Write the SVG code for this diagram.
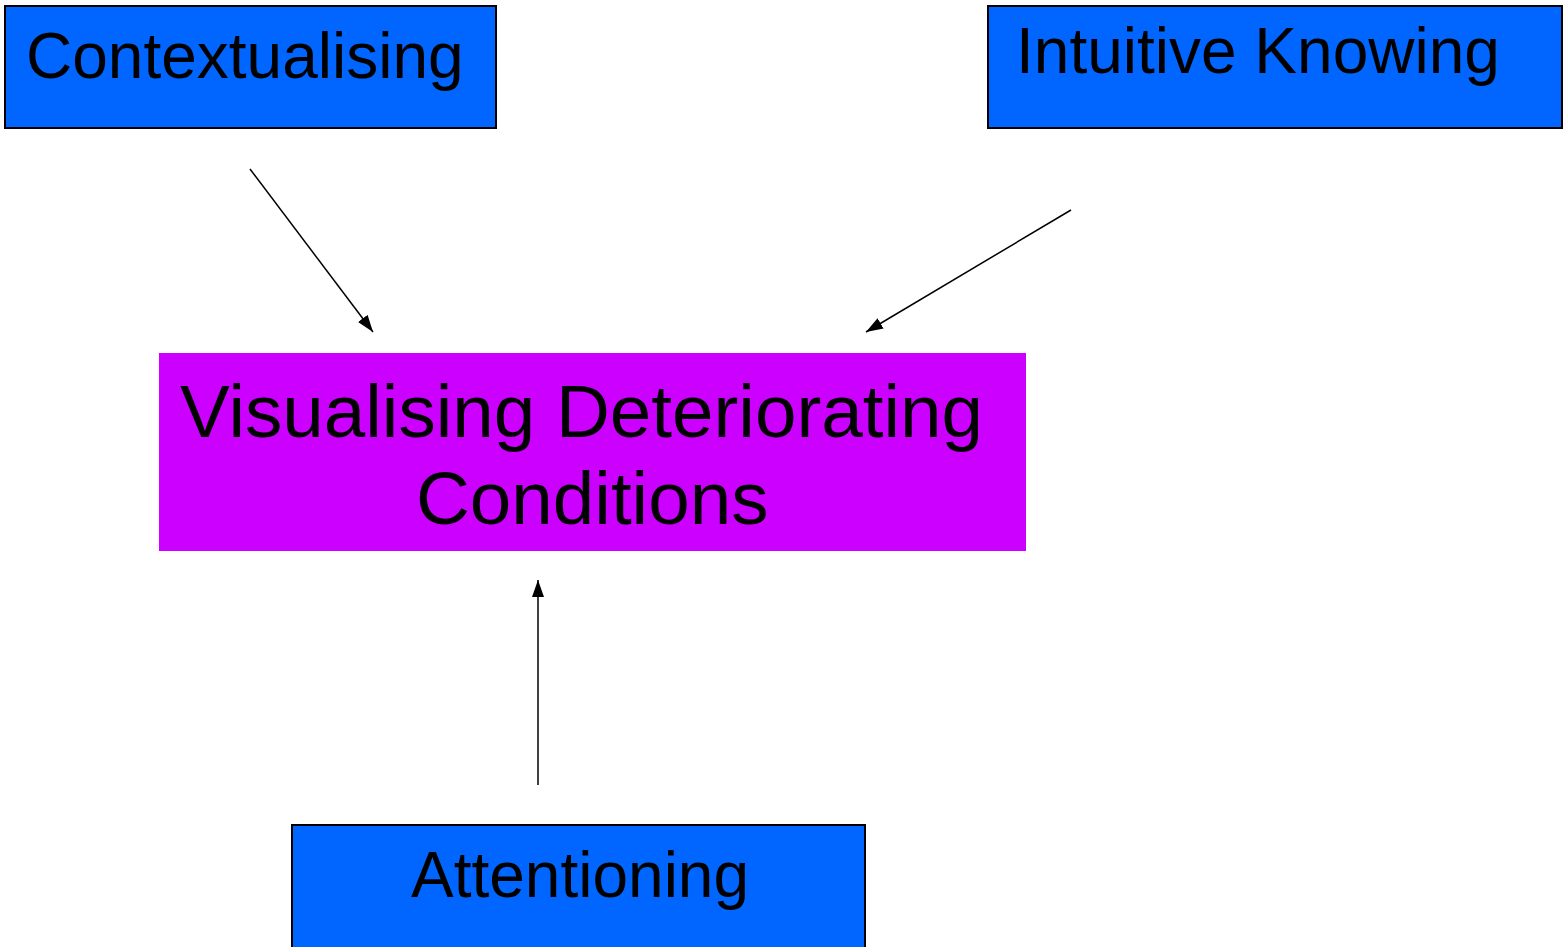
<svg xmlns="http://www.w3.org/2000/svg" width="1564" height="947" viewBox="0 0 1564 947">
<style>
.blue{fill:#0066FF;stroke:#000;stroke-width:2}
.mag{fill:#CC00FF;stroke:none}
.t{font-family:"Liberation Sans",Arial,sans-serif;fill:#000}
.s{font-size:64px}
.l{font-size:74.6px}
.c{stroke:#000;stroke-width:1.5;fill:none;marker-end:url(#ah)}
</style>
<defs>
<marker id="ah" markerUnits="userSpaceOnUse" markerWidth="17" markerHeight="12" refX="17" refY="6" orient="auto">
<path d="M0,0 L17,6 L0,12 Z" fill="#000"/>
</marker>
</defs>
<rect width="1564" height="947" fill="#fff"/>
<g id="contextualising">
<rect class="blue" x="5" y="6" width="491" height="122"/>
<text class="t s" x="26" y="78">Contextualising</text>
</g>
<g id="intuitive-knowing">
<rect class="blue" x="988" y="6" width="574" height="122"/>
<text class="t s" x="1016" y="73">Intuitive Knowing</text>
</g>
<g id="visualising">
<rect class="mag" x="159" y="353" width="867" height="198"/>
<text class="t l" x="180" y="437">Visualising Deteriorating</text>
<text class="t l" x="416" y="524">Conditions</text>
</g>
<g id="attentioning">
<rect class="blue" x="292" y="825" width="573" height="130"/>
<text class="t s" x="411" y="897">Attentioning</text>
</g>
<g id="connectors">
<line class="c" x1="250" y1="169" x2="373" y2="332"/>
<line class="c" x1="1071" y1="210" x2="866" y2="332"/>
<line class="c" x1="538" y1="785" x2="538" y2="580"/>
</g>
</svg>
